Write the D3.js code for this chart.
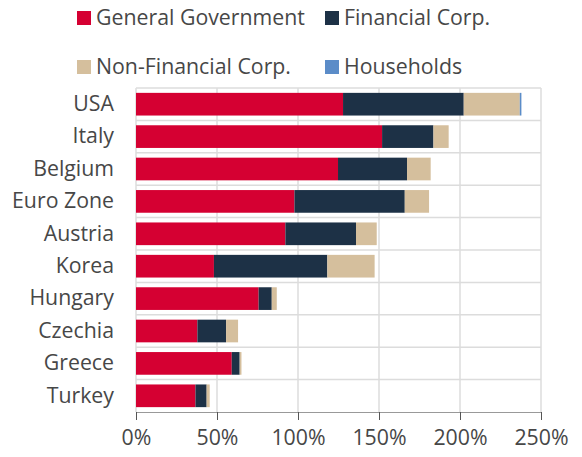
<!DOCTYPE html>
<html>
<head>
  <meta charset="utf-8">
  <script src="https://d3js.org/d3.v7.min.js"></script>
<style type="text/css">
body {
  margin: 0;
  background: #fff;
  font-family: "Open Sans", sans-serif;
}
.axis text {
  font-size: 21.3px;
  fill: #474747;
  font-family: "Open Sans", sans-serif;
}
.legend text {
  font-size: 21.3px;
  fill: #474747;
}
</style>
</head>
<body>
<script>
var countries = ["USA", "Italy", "Belgium", "Euro Zone", "Austria", "Korea", "Hungary", "Czechia", "Greece", "Turkey"];
var seriesNames = ["General Government", "Financial Corp.", "Non-Financial Corp.", "Households"];
var colors = ["#d50032", "#1d3146", "#d5bf9d", "#5b8cc8"];

var generalGov   = [127.8, 151.9, 124.7, 97.8, 92.2, 48.1, 75.7, 37.9, 59.1, 36.7];
var financial    = [74.5, 31.7, 42.6, 68.1, 43.6, 70.0, 8.1, 17.7, 4.9, 6.9];
var nonFinancial = [34.6, 9.4, 14.6, 15.0, 12.8, 29.2, 3.1, 7.4, 1.1, 1.9];
var households   = [1.0, 0, 0, 0, 0, 0, 0, 0, 0, 0];

var xTicks = [0, 50, 100, 150, 200, 250];

var margin = { top: 88, right: 41, bottom: 45, left: 136 };
var width = 582 - margin.left - margin.right;
var height = 457 - margin.top - margin.bottom;

var rows = countries.map(function(c, i) {
  return {
    country: c,
    "General Government": generalGov[i],
    "Financial Corp.": financial[i],
    "Non-Financial Corp.": nonFinancial[i],
    "Households": households[i]
  };
});

var svg = d3.select("body").append("svg")
  .attr("width", 582)
  .attr("height", 457);

var g = svg.append("g")
  .attr("transform", "translate(" + margin.left + "," + margin.top + ")");

var x = d3.scaleLinear().domain([0, 250]).range([0, width]);
var y = d3.scaleBand().domain(countries).range([0, height]).paddingInner(0.3).paddingOuter(0.15);
var color = d3.scaleOrdinal().domain(seriesNames).range(colors);

// vertical gridlines
g.selectAll(".vgrid")
  .data(xTicks)
  .enter().append("line")
  .attr("x1", function(d) { return x(d); })
  .attr("x2", function(d) { return x(d); })
  .attr("y1", 0)
  .attr("y2", height)
  .attr("stroke", "#dcdcdc")
  .attr("stroke-width", 1.5);

// horizontal gridlines between categories
var step = height / countries.length;
g.selectAll(".hgrid")
  .data(d3.range(countries.length))
  .enter().append("line")
  .attr("x1", 0)
  .attr("x2", width)
  .attr("y1", function(d) { return d * step; })
  .attr("y2", function(d) { return d * step; })
  .attr("stroke", "#dcdcdc")
  .attr("stroke-width", 1.5);

var stacked = d3.stack().keys(seriesNames)(rows);

g.selectAll(".series")
  .data(stacked)
  .enter().append("g")
  .attr("fill", function(d) { return color(d.key); })
  .selectAll("rect")
  .data(function(d) { return d; })
  .enter().append("rect")
  .attr("x", function(d) { return x(d[0]); })
  .attr("width", function(d) { return x(d[1]) - x(d[0]); })
  .attr("y", function(d) { return y(d.data.country); })
  .attr("height", y.bandwidth());

// x axis
var xAxis = g.append("g")
  .attr("class", "axis")
  .attr("transform", "translate(0," + height + ")")
  .call(d3.axisBottom(x).tickValues(xTicks).tickSize(8).tickPadding(10)
    .tickFormat(function(d) { return d + "%"; }));
xAxis.select(".domain").attr("stroke", "#999");
xAxis.selectAll(".tick line").attr("stroke", "#555");

// y axis labels
var yAxis = g.append("g")
  .attr("class", "axis")
  .call(d3.axisLeft(y).tickSize(0).tickPadding(22));
yAxis.select(".domain").remove();

// legend
var legendPos = [[77, 18], [325, 18], [77, 67], [325, 67]];
var legend = svg.selectAll(".legend")
  .data(seriesNames)
  .enter().append("g")
  .attr("class", "legend")
  .attr("transform", function(d, i) { return "translate(" + legendPos[i][0] + "," + legendPos[i][1] + ")"; });

legend.append("rect")
  .attr("y", -7)
  .attr("width", 14)
  .attr("height", 14)
  .attr("fill", function(d) { return color(d); });

legend.append("text")
  .attr("x", 19)
  .attr("dy", "0.35em")
  .text(function(d) { return d; });
</script>
</body>
</html>
